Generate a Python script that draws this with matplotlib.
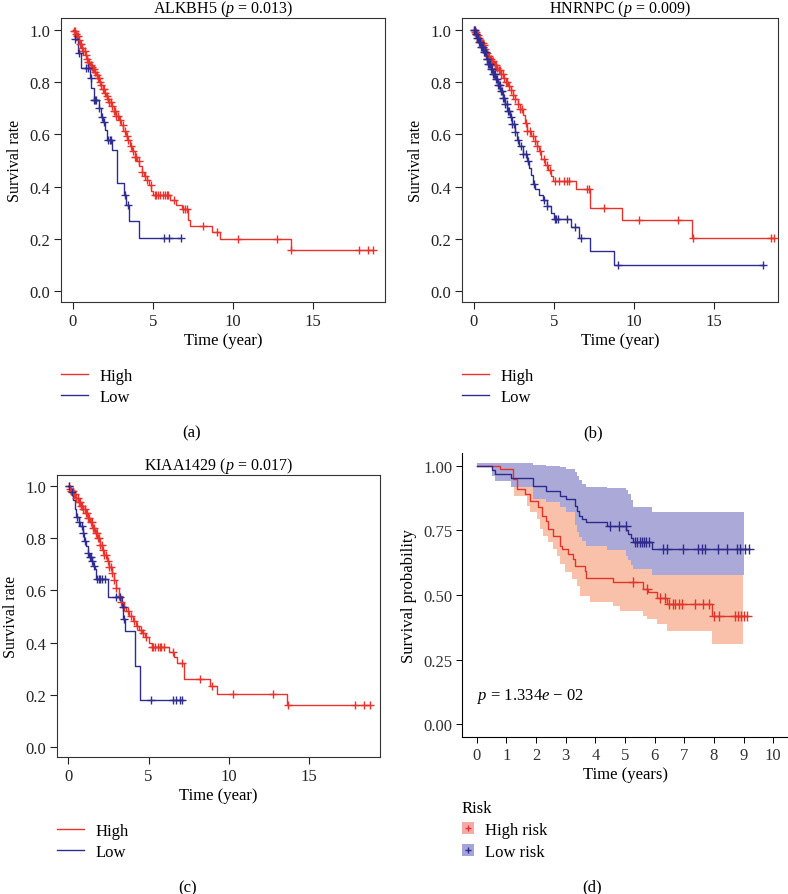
import numpy as np
import matplotlib.pyplot as plt
from matplotlib.lines import Line2D
from matplotlib.patches import Patch

plt.rcParams['font.family'] = ['Liberation Serif', 'DejaVu Serif']
plt.rcParams['mathtext.fontset'] = 'custom'
plt.rcParams['mathtext.rm'] = 'Liberation Serif'
plt.rcParams['mathtext.it'] = 'Liberation Serif:italic'
plt.rcParams['font.size'] = 12

RED = '#e8322b'
BLUE = '#2e2d8f'

# (a) ALKBH5
a_high_t = [0.05, 0.15, 0.25, 0.35, 0.45, 0.55, 0.65, 0.75, 0.85, 0.95, 1.05, 1.15, 1.25, 1.35, 1.45,
            1.55, 1.65, 1.75, 1.85, 1.95, 2.05, 2.15, 2.25, 2.4, 2.55, 2.7, 2.85, 3.0, 3.15, 3.3, 3.4,
            3.55, 3.7, 3.85, 4.0, 4.15, 4.3, 4.45, 4.6, 4.75, 4.9, 5.0, 6.05, 6.45, 6.8, 7.2, 7.3, 8.7,
            9.2, 13.6]
a_high_s = [0.995, 0.985, 0.975, 0.96, 0.945, 0.93, 0.918, 0.905, 0.89, 0.878, 0.866, 0.858, 0.85,
            0.838, 0.826, 0.814, 0.802, 0.79, 0.775, 0.76, 0.745, 0.735, 0.725, 0.708, 0.69, 0.672,
            0.655, 0.635, 0.615, 0.595, 0.58, 0.556, 0.535, 0.515, 0.497, 0.478, 0.458, 0.44, 0.425,
            0.405, 0.385, 0.367, 0.348, 0.33, 0.314, 0.272, 0.25, 0.227, 0.199, 0.157]
a_high_cens = [0.05, 0.12, 0.18, 0.25, 0.3, 0.38, 0.45, 0.5, 0.58, 0.65, 0.72, 0.8, 0.88, 0.95, 1.02,
               1.1, 1.18, 1.25, 1.32, 1.4, 1.48, 1.55, 1.62, 1.7, 1.78, 1.85, 1.92, 2.0, 2.1, 2.18,
               2.25, 2.35, 2.45, 2.55, 2.62, 2.7, 2.8, 2.95, 3.1, 3.25, 3.35, 3.42, 3.6, 3.75, 3.85,
               3.95, 4.1, 4.3, 4.5, 4.65, 4.85, 5.1, 5.2, 5.3, 5.45, 5.6, 5.75, 5.85, 5.95, 6.3, 6.9,
               7.0, 7.1, 8.15, 9.0, 10.3, 12.75, 13.65, 17.9, 18.45, 18.75]
a_low_t = [0.1, 0.32, 0.52, 1.05, 1.15, 1.3, 1.6, 1.75, 1.9, 2.0, 2.15, 2.45, 2.73, 3.2, 3.3, 3.5, 4.15]
a_low_s = [0.965, 0.91, 0.852, 0.814, 0.776, 0.73, 0.70, 0.667, 0.648, 0.616, 0.578, 0.54, 0.415,
           0.367, 0.33, 0.27, 0.204]
a_low_cens = [0.12, 0.35, 0.8, 0.95, 1.12, 1.33, 1.38, 1.42, 1.65, 1.8, 1.95, 2.2, 2.3, 2.38, 3.25,
              3.42, 5.69, 6.0, 6.75]

# (b) HNRNPC
b_high_t = [0.1, 0.2, 0.3, 0.4, 0.5, 0.6, 0.7, 0.8, 0.9, 1.0, 1.1, 1.25, 1.4, 1.55, 1.7, 1.85, 2.0,
            2.15, 2.3, 2.45, 2.6, 2.75, 2.9, 3.05, 3.2, 3.3, 3.6, 3.8, 3.95, 4.1, 4.2, 4.45, 4.65,
            4.85, 4.95, 6.37, 7.27, 9.23, 13.6]
b_high_s = [0.99, 0.98, 0.97, 0.96, 0.95, 0.94, 0.925, 0.91, 0.90, 0.89, 0.88, 0.865, 0.855, 0.845,
            0.832, 0.815, 0.80, 0.785, 0.768, 0.752, 0.735, 0.715, 0.698, 0.675, 0.645, 0.615, 0.595,
            0.575, 0.555, 0.535, 0.505, 0.485, 0.465, 0.44, 0.423, 0.39, 0.32, 0.275, 0.205]
b_high_cens = [0.05, 0.1, 0.15, 0.2, 0.28, 0.35, 0.42, 0.5, 0.58, 0.65, 0.72, 0.8, 0.9, 0.98, 1.05,
               1.12, 1.2, 1.3, 1.38, 1.45, 1.55, 1.65, 1.72, 1.8, 1.9, 2.0, 2.1, 2.2, 2.3, 2.45, 2.6,
               2.75, 2.9, 3.0, 3.25, 3.35, 3.5, 3.7, 3.8, 3.95, 4.15, 4.4, 4.55, 4.75, 5.1, 5.33,
               5.65, 5.85, 5.96, 7.1, 7.2, 8.15, 10.3, 12.77, 13.67, 18.55, 18.78]
b_low_t = [0.1, 0.2, 0.3, 0.45, 0.6, 0.75, 0.9, 1.05, 1.2, 1.35, 1.5, 1.65, 1.8, 1.95, 2.1, 2.25,
           2.4, 2.55, 2.7, 2.85, 3.05, 3.3, 3.45, 3.55, 3.7, 3.85, 4.1, 4.35, 4.6, 4.85, 5.0, 6.06,
           6.6, 7.25, 8.73]
b_low_s = [0.985, 0.97, 0.955, 0.935, 0.915, 0.89, 0.87, 0.85, 0.832, 0.81, 0.79, 0.765, 0.74, 0.715,
           0.69, 0.665, 0.64, 0.61, 0.58, 0.555, 0.525, 0.5, 0.47, 0.445, 0.41, 0.39, 0.37, 0.35,
           0.325, 0.30, 0.276, 0.245, 0.205, 0.155, 0.10]
b_low_cens = [0.03, 0.08, 0.12, 0.17, 0.22, 0.27, 0.32, 0.37, 0.42, 0.47, 0.52, 0.57, 0.62, 0.68,
              0.74, 0.8, 0.86, 0.92, 0.98, 1.04, 1.1, 1.16, 1.22, 1.28, 1.34, 1.4, 1.46, 1.52, 1.58,
              1.64, 1.7, 1.76, 1.82, 1.9, 1.98, 2.06, 2.14, 2.22, 2.3, 2.4, 2.5, 2.6, 2.75, 2.95,
              3.1, 3.25, 3.4, 3.75, 4.4, 4.6, 5.05, 5.15, 5.25, 5.8, 6.3, 6.7, 8.98, 18.04]

# (c) KIAA1429
c_high_t = [0.1, 0.2, 0.3, 0.45, 0.6, 0.75, 0.9, 1.05, 1.2, 1.35, 1.5, 1.65, 1.8, 1.95, 2.1, 2.25,
            2.4, 2.55, 2.7, 2.85, 3.0, 3.15, 3.3, 3.45, 3.6, 3.8, 4.0, 4.2, 4.4, 4.6, 4.8, 5.0, 5.19,
            6.3, 6.6, 6.75, 7.2, 8.82, 9.23, 13.59]
c_high_s = [0.99, 0.98, 0.97, 0.955, 0.94, 0.925, 0.91, 0.895, 0.878, 0.86, 0.84, 0.82, 0.80, 0.775,
            0.755, 0.735, 0.712, 0.69, 0.665, 0.64, 0.61, 0.58, 0.555, 0.535, 0.52, 0.5, 0.482,
            0.465, 0.45, 0.437, 0.42, 0.40, 0.384, 0.365, 0.345, 0.322, 0.261, 0.235, 0.203, 0.162]
c_high_cens = [0.05, 0.12, 0.2, 0.28, 0.35, 0.42, 0.5, 0.58, 0.65, 0.72, 0.8, 0.88, 0.95, 1.02, 1.1,
               1.18, 1.25, 1.32, 1.4, 1.48, 1.55, 1.62, 1.7, 1.78, 1.85, 1.92, 2.0, 2.08, 2.15,
               2.25, 2.35, 2.45, 2.55, 2.65, 2.75, 2.85, 3.0, 3.15, 3.3, 3.5, 3.7, 3.9, 4.1, 4.3,
               4.5, 4.65, 4.85, 5.22, 5.3, 5.4, 5.6, 5.7, 5.8, 5.95, 6.5, 7.05, 8.2, 8.95, 10.27,
               12.76, 13.65, 17.84, 18.4, 18.75]
c_low_t = [0.1, 0.2, 0.3, 0.4, 0.5, 0.65, 0.75, 0.9, 1.0, 1.1, 1.2, 1.3, 1.45, 1.55, 1.65, 1.75,
           2.49, 3.32, 3.42, 3.55, 4.15, 4.46]
c_low_s = [0.985, 0.975, 0.945, 0.912, 0.88, 0.86, 0.845, 0.82, 0.79, 0.771, 0.745, 0.726, 0.714,
           0.695, 0.68, 0.644, 0.574, 0.536, 0.49, 0.446, 0.311, 0.18]
c_low_cens = [0.05, 0.25, 0.52, 0.68, 0.83, 0.95, 1.05, 1.2, 1.35, 1.4, 1.5, 1.6, 1.8, 1.9, 2.0,
              2.1, 2.3, 3.0, 3.25, 3.4, 3.5, 5.13, 6.5, 6.7, 6.95, 7.1]

# (d) risk score
d_high_t = [0.78, 1.23, 1.34, 1.62, 1.79, 2.07, 2.19, 2.35, 2.41, 2.58, 2.8, 2.86, 3.09, 3.26, 3.31,
            3.65, 3.7, 4.61, 5.62, 5.79, 6.07, 6.41, 7.93]
d_high_s = [0.988, 0.95, 0.911, 0.891, 0.866, 0.84, 0.808, 0.788, 0.756, 0.73, 0.691, 0.678, 0.659,
            0.64, 0.614, 0.594, 0.565, 0.549, 0.523, 0.51, 0.49, 0.465, 0.42]
d_high_cens = [5.28, 5.73, 6.18, 6.35, 6.5, 6.62, 6.7, 6.82, 6.93, 7.36, 7.64, 7.82, 8.0, 8.18, 8.71,
               8.8, 8.9, 9.0, 9.1]
d_high_band_t = [0.78, 1.24, 1.69, 1.8, 2.02, 2.13, 2.24, 2.41, 2.58, 2.69, 2.8, 2.97, 3.2, 3.37,
                 3.48, 3.82, 4.6, 4.83, 5.62, 5.73, 6.07, 6.41, 7.93]
d_high_lo = [0.95, 0.885, 0.846, 0.82, 0.795, 0.756, 0.73, 0.704, 0.678, 0.653, 0.62, 0.588, 0.562,
             0.536, 0.498, 0.472, 0.459, 0.44, 0.42, 0.407, 0.388, 0.362, 0.31]
d_high_hi = [1.0, 0.99, 0.975, 0.97, 0.96, 0.95, 0.935, 0.915, 0.9, 0.885, 0.865, 0.85, 0.83, 0.81,
             0.79, 0.77, 0.75, 0.73, 0.70, 0.69, 0.67, 0.65, 0.60]
d_high_band_end = 8.98
d_low_t = [0.5, 0.6, 1.17, 1.9, 2.35, 2.8, 3.0, 3.31, 3.38, 3.45, 3.55, 3.7, 4.38, 5.05, 5.1, 5.2,
           5.28, 5.9]
d_low_s = [0.985, 0.97, 0.952, 0.924, 0.904, 0.885, 0.872, 0.846, 0.825, 0.808, 0.795, 0.781, 0.769,
           0.75, 0.737, 0.72, 0.704, 0.678]
d_low_lo = [0.96, 0.94, 0.917, 0.872, 0.86, 0.84, 0.82, 0.77, 0.745, 0.725, 0.71, 0.69, 0.675, 0.65,
            0.635, 0.615, 0.6, 0.578]
d_low_hi = [1.01, 1.01, 1.01, 1.005, 1.0, 0.995, 0.99, 0.975, 0.96, 0.945, 0.93, 0.92, 0.915, 0.905,
            0.89, 0.87, 0.84, 0.82]
d_low_band_end = 9.02
d_low_cens = [4.5, 4.8, 5.02, 5.35, 5.42, 5.5, 5.57, 5.64, 5.72, 5.8, 6.29, 6.41, 6.97, 7.48, 7.59,
              7.7, 8.15, 8.43, 8.77, 8.88, 9.05, 9.2]


def km(ax, times, surv, cens, color, ms=6, lw=1.0):
    t = np.r_[0, times, max(cens)]
    s = np.r_[1.0, surv, surv[-1]]
    ax.step(t, s, where='post', color=color, lw=lw, zorder=3)
    idx = np.searchsorted(t, np.array(cens), side='right') - 1
    ax.plot(cens, s[idx], ls='none', marker='+', color=color, ms=ms, mew=1.0, zorder=4)


def base_panel(ax, title, xlim, ylim, leg_y):
    ax.set_xlim(xlim)
    ax.set_ylim(ylim)
    ax.set_xticks([0, 5, 10, 15])
    ax.set_yticks([0, 0.2, 0.4, 0.6, 0.8, 1.0])
    ax.set_yticklabels(['0.0', '0.2', '0.4', '0.6', '0.8', '1.0'])
    ax.tick_params(direction='out', length=5, width=0.8, pad=3, colors='#222222')
    for sp in ax.spines.values():
        sp.set_color('#333333')
        sp.set_linewidth(0.8)
    ax.set_title(title, pad=4, fontsize=11.5)
    ax.set_xlabel('Time (year)', labelpad=2)
    ax.set_ylabel('Survival rate', labelpad=4, fontsize=11.5)
    ax.legend([Line2D([], [], color=RED, lw=1.0), Line2D([], [], color=BLUE, lw=1.0)],
              ['High', 'Low'], loc='upper left', bbox_to_anchor=(0, leg_y),
              frameon=False, borderpad=0, borderaxespad=0, handlelength=1.62,
              handletextpad=0.72, labelspacing=0.32)


fig = plt.figure(figsize=(7.88, 8.95), dpi=100)

ax_a = fig.add_axes([0.0774, 0.6615, 0.4112, 0.3173])
km(ax_a, a_high_t, a_high_s, a_high_cens, RED)
km(ax_a, a_low_t, a_low_s, a_low_cens, BLUE)
base_panel(ax_a, r'ALKBH5 ($p$ = 0.013)', (-0.75, 19.5), (-0.04, 1.045), -0.232)

ax_b = fig.add_axes([0.5863, 0.6615, 0.401, 0.3173])
km(ax_b, b_high_t, b_high_s, b_high_cens, RED)
km(ax_b, b_low_t, b_low_s, b_low_cens, BLUE)
base_panel(ax_b, r'HNRNPC ($p$ = 0.009)', (-0.73, 19.0), (-0.04, 1.045), -0.232)

ax_c = fig.add_axes([0.0723, 0.1531, 0.4099, 0.3151])
km(ax_c, c_high_t, c_high_s, c_high_cens, RED)
km(ax_c, c_low_t, c_low_s, c_low_cens, BLUE)
base_panel(ax_c, r'KIAA1429 ($p$ = 0.017)', (-0.70, 19.4), (-0.038, 1.042), -0.234)

# (d) ggplot style
ax_d = fig.add_axes([0.5863, 0.1754, 0.4137, 0.3173])
bt = np.r_[0, d_high_band_t, d_high_band_end]
ax_d.fill_between(bt, np.r_[1.0, d_high_lo, d_high_lo[-1]], np.r_[1.0, d_high_hi, d_high_hi[-1]],
                  step='post', color='#f9c1a9', lw=0, zorder=1)
bt = np.r_[0, d_low_t, d_low_band_end]
ax_d.fill_between(bt, np.r_[1.0, d_low_lo, d_low_lo[-1]], np.r_[1.01, d_low_hi, d_low_hi[-1]],
                  step='post', color='#aba9d8', lw=0, zorder=2)
km(ax_d, d_high_t, d_high_s, d_high_cens, '#e3342a', ms=7.5)
km(ax_d, d_low_t, d_low_s, d_low_cens, '#2d2a8c', ms=7.5)
ax_d.set_xlim(-0.5, 10.5)
ax_d.set_ylim(-0.05, 1.05)
ax_d.set_xticks(range(11))
ax_d.set_yticks([0, 0.25, 0.5, 0.75, 1.0])
ax_d.set_yticklabels(['0.00', '0.25', '0.50', '0.75', '1.00'])
ax_d.tick_params(direction='out', length=4, width=0.7, pad=3, labelcolor='#333333')
for sp in ['top', 'right']:
    ax_d.spines[sp].set_visible(False)
for sp in ['left', 'bottom']:
    ax_d.spines[sp].set_linewidth(0.8)
ax_d.set_xlabel('Time (years)', labelpad=2)
ax_d.set_ylabel('Survival probability', labelpad=4)
ax_d.text(0.02, 0.11, r'$p$ = 1.334$e$ − 02', ha='left', va='center')
leg = ax_d.legend([(Patch(facecolor='#f5a9a9', edgecolor='none'),
                    Line2D([], [], ls='none', marker='+', color='#e3342a', ms=5)),
                   (Patch(facecolor='#a5a4da', edgecolor='none'),
                    Line2D([], [], ls='none', marker='+', color='#2d2a8c', ms=5))],
                  ['High risk', 'Low risk'], title='Risk', loc='upper left',
                  bbox_to_anchor=(0, -0.222), frameon=False, borderpad=0, borderaxespad=0,
                  handlelength=0.72, handleheight=0.72, handletextpad=0.66, labelspacing=0.36,
                  alignment='left', title_fontsize=12)

fig.text(192 / 788, 1 - 433 / 895, '(a)', ha='center', va='center')
fig.text(593 / 788, 1 - 433 / 895, '(b)', ha='center', va='center')
fig.text(188 / 788, 1 - 888 / 895, '(c)', ha='center', va='center')
fig.text(592 / 788, 1 - 887 / 895, '(d)', ha='center', va='center')

plt.savefig('out.png', dpi=100)
